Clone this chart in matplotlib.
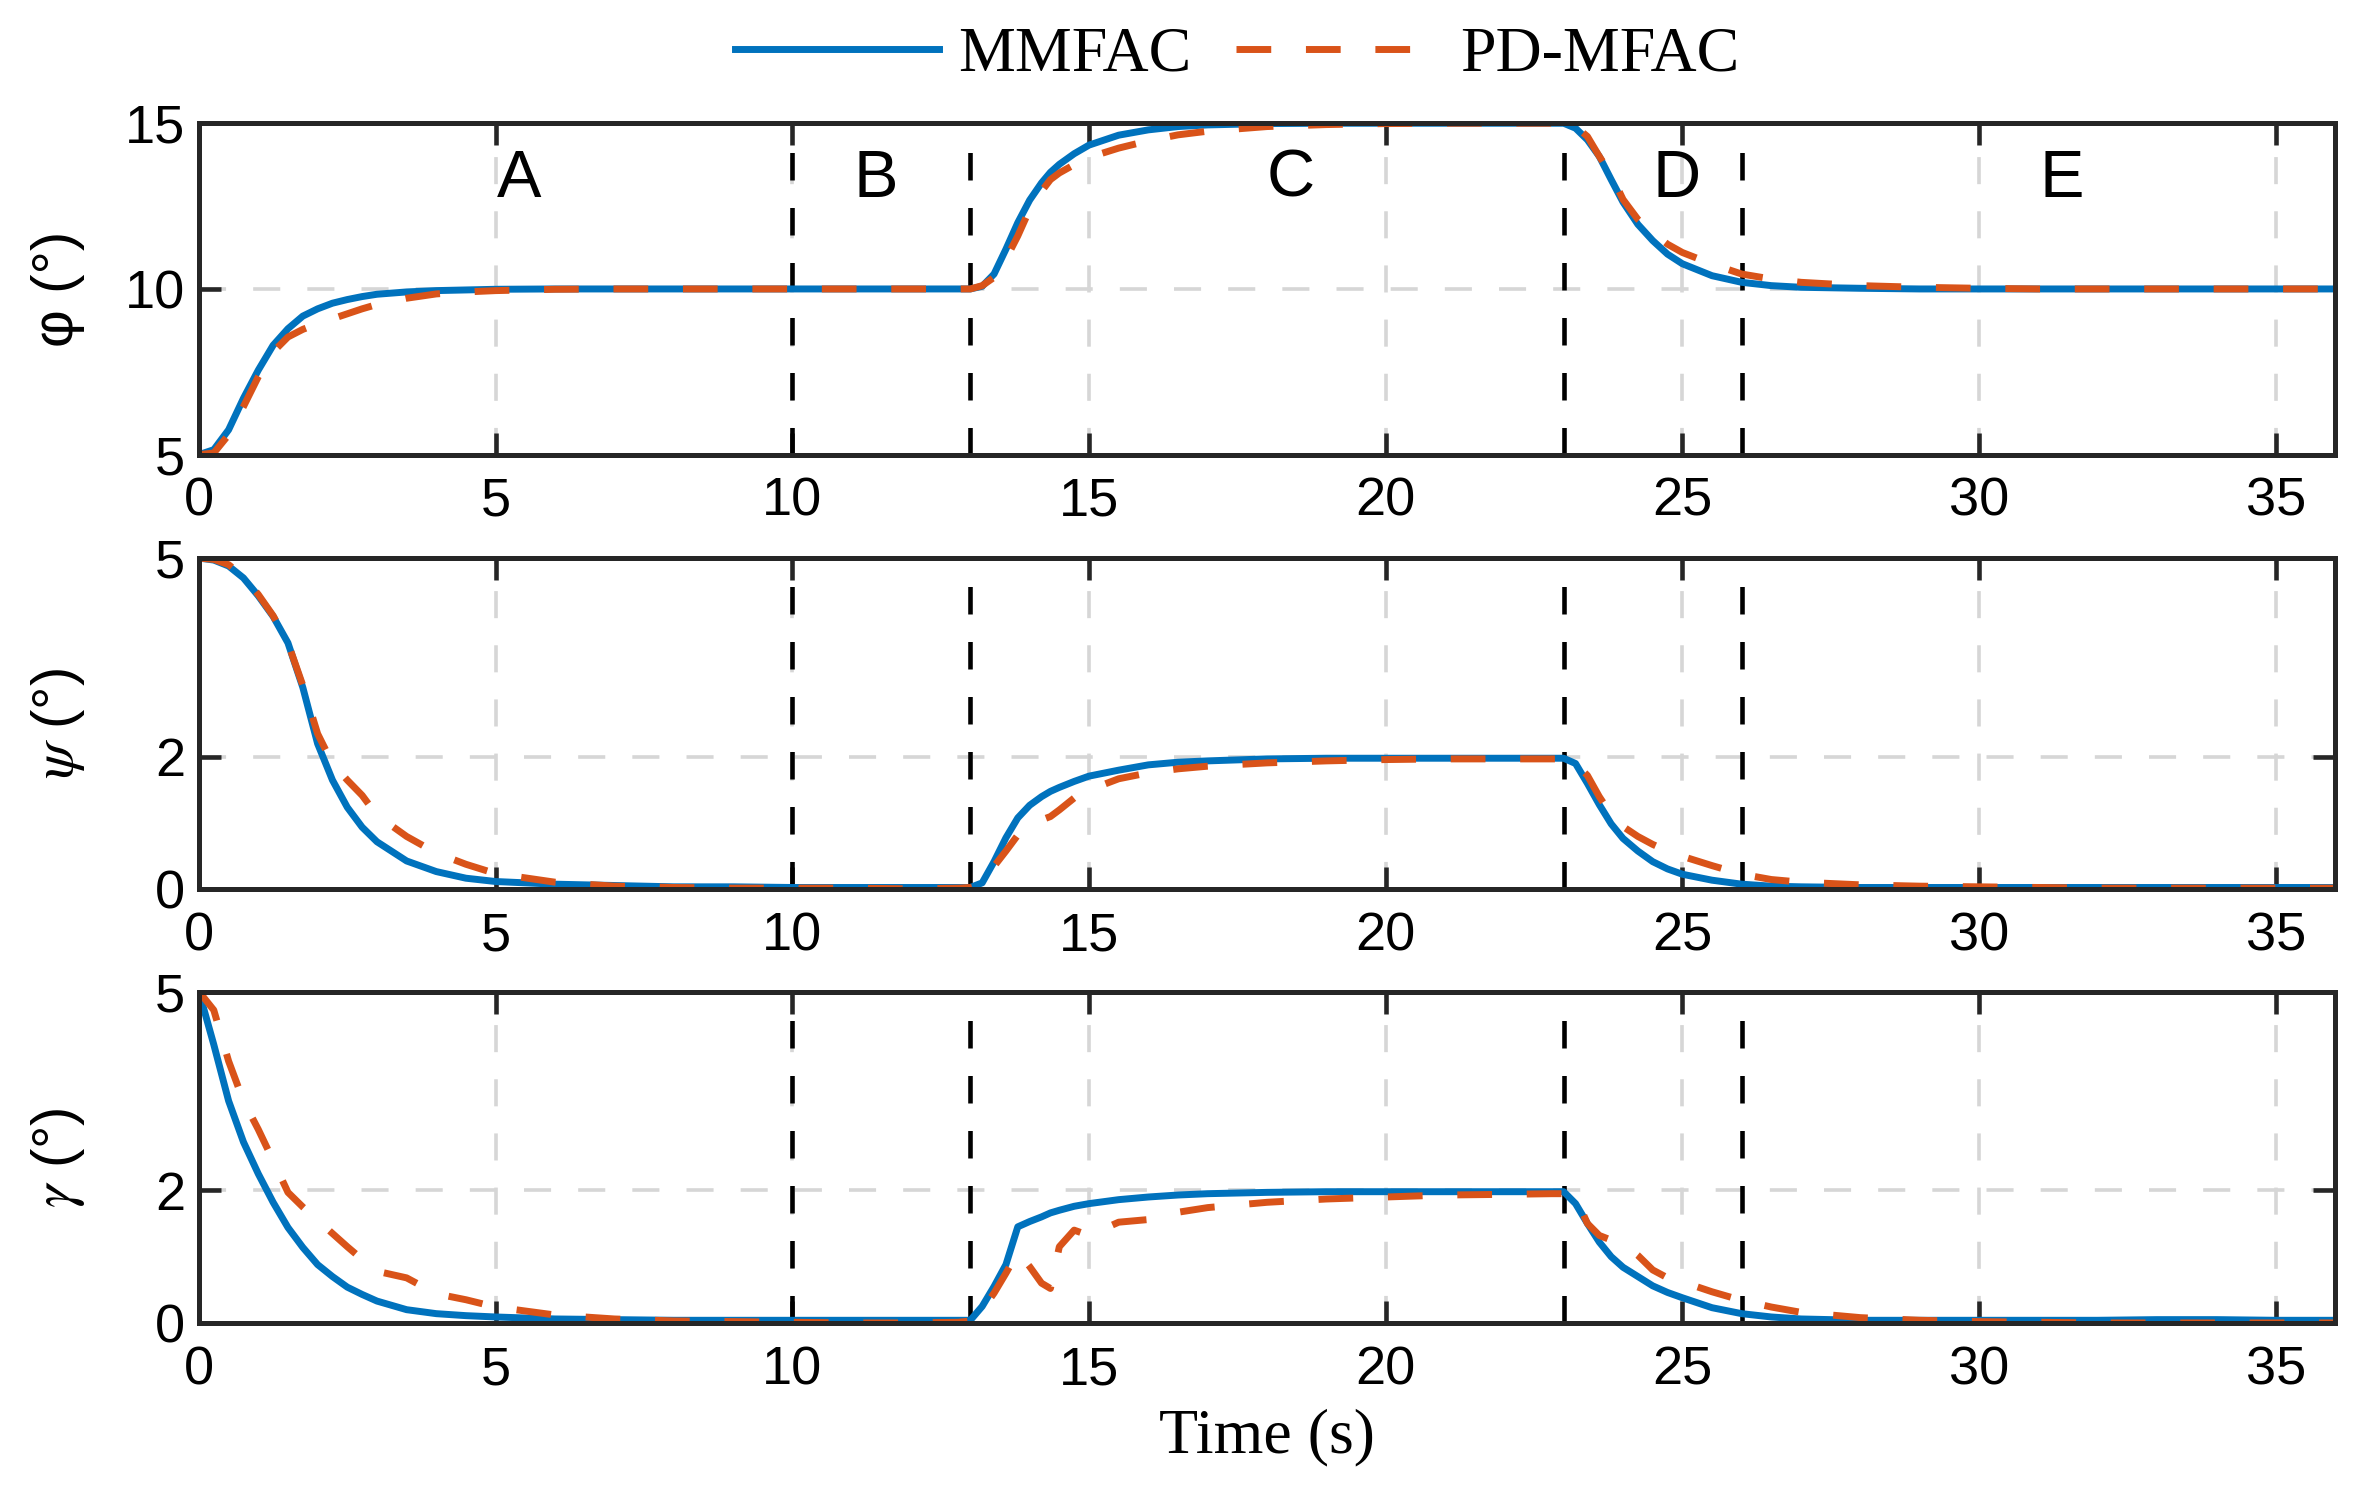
import matplotlib
matplotlib.use("Agg")
import matplotlib.pyplot as plt

# sample times (s)
t = [0, 0.25, 0.5, 0.75, 1, 1.25, 1.5, 1.75, 2, 2.25, 2.5, 2.75, 3, 3.5, 4, 4.5,
     5, 6, 7, 8, 9, 10, 11, 12, 12.8, 13, 13.2, 13.4, 13.6, 13.8, 14, 14.2, 14.35,
     14.5, 14.75, 15, 15.5, 16, 16.5, 17, 18, 19, 20, 21, 22, 22.8, 23, 23.2, 23.4,
     23.6, 23.8, 24, 24.25, 24.5, 24.75, 25, 25.5, 26, 26.5, 27, 28, 29, 30, 31,
     32, 33, 34, 35, 36]

phi_mmfac = [5.0, 5.15, 5.75, 6.7, 7.55, 8.3, 8.8, 9.18, 9.4, 9.57, 9.68, 9.77, 9.84, 9.91, 9.95, 9.97,
             9.99, 10.0, 10.0, 10.0, 10.0, 10.0, 10.0, 10.0, 10.0, 10.0, 10.08, 10.45, 11.2, 12.0, 12.68, 13.2, 13.52,
             13.76, 14.08, 14.34, 14.64, 14.8, 14.9, 14.95, 14.99, 15.0, 15.0, 15.0, 15.0, 15.0, 15.0, 14.85, 14.5,
             14.0, 13.3, 12.62, 11.95, 11.46, 11.05, 10.76, 10.4, 10.2, 10.1, 10.05, 10.02, 10.0, 10.0, 10.0,
             10.0, 10.0, 10.0, 10.0, 10.0]
phi_pd = [5.0, 5.05, 5.6, 6.45, 7.35, 8.1, 8.55, 8.78, 8.95, 9.1, 9.25, 9.4, 9.53, 9.72, 9.85, 9.91,
          9.95, 9.99, 10.0, 10.0, 10.0, 10.0, 10.0, 10.0, 10.0, 10.0, 10.1, 10.35, 10.9, 11.6, 12.4, 12.95, 13.3,
          13.5, 13.75, 13.97, 14.25, 14.47, 14.65, 14.76, 14.9, 14.96, 14.99, 15.0, 15.0, 15.0, 15.0, 14.9, 14.6,
          14.0, 13.45, 12.7, 12.1, 11.7, 11.35, 11.1, 10.75, 10.45, 10.3, 10.2, 10.1, 10.05, 10.02, 10.0,
          10.0, 10.0, 10.0, 10.0, 10.0]

psi_mmfac = [5.0, 4.97, 4.88, 4.7, 4.43, 4.12, 3.72, 3.05, 2.2, 1.65, 1.24, 0.94, 0.72, 0.43, 0.27, 0.17,
             0.12, 0.08, 0.06, 0.04, 0.04, 0.03, 0.03, 0.03, 0.03, 0.03, 0.1, 0.42, 0.78, 1.08, 1.27, 1.4, 1.48,
             1.54, 1.63, 1.71, 1.8, 1.88, 1.92, 1.94, 1.97, 1.98, 1.98, 1.98, 1.98, 1.98, 1.98, 1.9, 1.6,
             1.28, 0.99, 0.77, 0.58, 0.42, 0.31, 0.23, 0.14, 0.08, 0.05, 0.04, 0.03, 0.03, 0.03, 0.03,
             0.03, 0.03, 0.03, 0.03, 0.03]
psi_pd = [5.0, 4.98, 4.9, 4.72, 4.45, 4.13, 3.72, 3.08, 2.35, 1.9, 1.65, 1.42, 1.12, 0.8, 0.55, 0.38,
          0.24, 0.11, 0.05, 0.03, 0.02, 0.02, 0.02, 0.01, 0.02, 0.03, 0.08, 0.35, 0.58, 0.82, 0.95, 1.05, 1.1,
          1.2, 1.38, 1.5, 1.67, 1.76, 1.82, 1.86, 1.91, 1.94, 1.96, 1.97, 1.97, 1.97, 1.97, 1.9, 1.72,
          1.4, 1.13, 0.95, 0.8, 0.68, 0.58, 0.5, 0.36, 0.23, 0.15, 0.11, 0.07, 0.05, 0.04, 0.03,
          0.02, 0.02, 0.02, 0.02, 0.02]

gamma_mmfac = [5.0, 4.2, 3.35, 2.73, 2.25, 1.82, 1.44, 1.14, 0.88, 0.7, 0.54, 0.43, 0.33, 0.2, 0.14, 0.11,
               0.09, 0.06, 0.05, 0.04, 0.04, 0.04, 0.04, 0.04, 0.04, 0.04, 0.25, 0.55, 0.88, 1.45, 1.53, 1.6, 1.66,
               1.7, 1.76, 1.8, 1.86, 1.9, 1.93, 1.95, 1.97, 1.98, 1.98, 1.98, 1.98, 1.98, 1.98, 1.8, 1.5,
               1.22, 1.0, 0.84, 0.7, 0.56, 0.46, 0.38, 0.23, 0.14, 0.09, 0.06, 0.04, 0.04, 0.04, 0.04,
               0.04, 0.05, 0.05, 0.04, 0.04]
gamma_pd = [5.0, 4.72, 3.95, 3.35, 2.92, 2.45, 1.97, 1.75, 1.55, 1.35, 1.15, 0.96, 0.78, 0.68, 0.44, 0.35,
            0.24, 0.12, 0.06, 0.03, 0.02, 0.01, 0.0, 0.0, 0.01, 0.03, 0.2, 0.45, 0.75, 1.07, 0.85, 0.6, 0.52,
            1.15, 1.4, 1.32, 1.52, 1.56, 1.67, 1.74, 1.82, 1.87, 1.9, 1.93, 1.94, 1.95, 1.95, 1.9, 1.5,
            1.32, 1.25, 1.2, 1.02, 0.8, 0.68, 0.62, 0.47, 0.34, 0.24, 0.16, 0.08, 0.04, 0.02, 0.01,
            0.0, 0.0, 0.0, 0.0, 0.0]

phase_bounds = [10, 13, 23, 26]
phase_names = ["A", "B", "C", "D", "E"]
phase_x = [5.4, 11.4, 18.4, 24.9, 31.4]

ylabels = ["φ (°)", r"$\psi$ (°)", r"$\gamma$ (°)"]
yticks = [[5, 10, 15], [0, 2, 5], [0, 2, 5]]
ylims = [(5, 15), (0, 5), (0, 5)]
xticks = [0, 5, 10, 15, 20, 25, 30, 35]

blue = "#0072BD"
orange = "#D95319"

plt.rcParams["font.family"] = "Liberation Sans"
plt.rcParams["mathtext.fontset"] = "stix"

fig = plt.figure(figsize=(23.74, 15.03), dpi=100)
bottoms = [0.6975, 0.4082, 0.1198]
series = [(phi_mmfac, phi_pd), (psi_mmfac, psi_pd), (gamma_mmfac, gamma_pd)]

axes = []
for i in range(3):
    ax = fig.add_axes([0.0838, bottoms[i], 0.8998, 0.2205])
    axes.append(ax)
    y1, y2 = series[i]
    l1, = ax.plot(t, y1, color=blue, lw=5, solid_joinstyle="round", zorder=4)
    l2, = ax.plot(t, y2, color=orange, lw=5, linestyle=(0, (5, 5)), zorder=5)
    for xb in phase_bounds:
        ax.axvline(xb, color="black", lw=3.3, linestyle=(0, (6, 6)), zorder=3)
    ax.set_xlim(0, 36)
    ax.set_ylim(*ylims[i])
    ax.set_xticks(xticks)
    ax.set_yticks(yticks[i])
    ax.grid(True, color="#d6d6d6", lw=2.6, linestyle=(0, (7.5, 7.5)))
    ax.set_axisbelow(True)
    ax.tick_params(direction="in", length=16, width=3.3, labelsize=39,
                   top=True, right=True, colors="#262626", labelcolor="black")
    ax.tick_params(axis="x", pad=16)
    ax.tick_params(axis="y", pad=10)
    for s in ax.spines.values():
        s.set_linewidth(3.6)
        s.set_color("#262626")
        s.set_zorder(6)
    ax.text(-0.066, 0.5, ylabels[i], transform=ax.transAxes, rotation=90,
            ha="center", va="center", fontsize=42)

for name, xp in zip(phase_names, phase_x):
    axes[0].text(xp, 13.3, name, ha="center", va="center", fontsize=48)

axes[2].text(0.5, -0.345, "Time (s)", transform=axes[2].transAxes, ha="center",
             va="center", fontsize=46, family="Liberation Serif")

fig.legend([l1, l2], ["MMFAC", "PD-MFAC"], loc="center", bbox_to_anchor=(0.521, 0.963),
           ncol=2, frameon=False, handlelength=3.2, handletextpad=0.3, columnspacing=0.7,
           prop={"family": "Liberation Serif", "size": 46})

fig.savefig("out.png", dpi=100)
